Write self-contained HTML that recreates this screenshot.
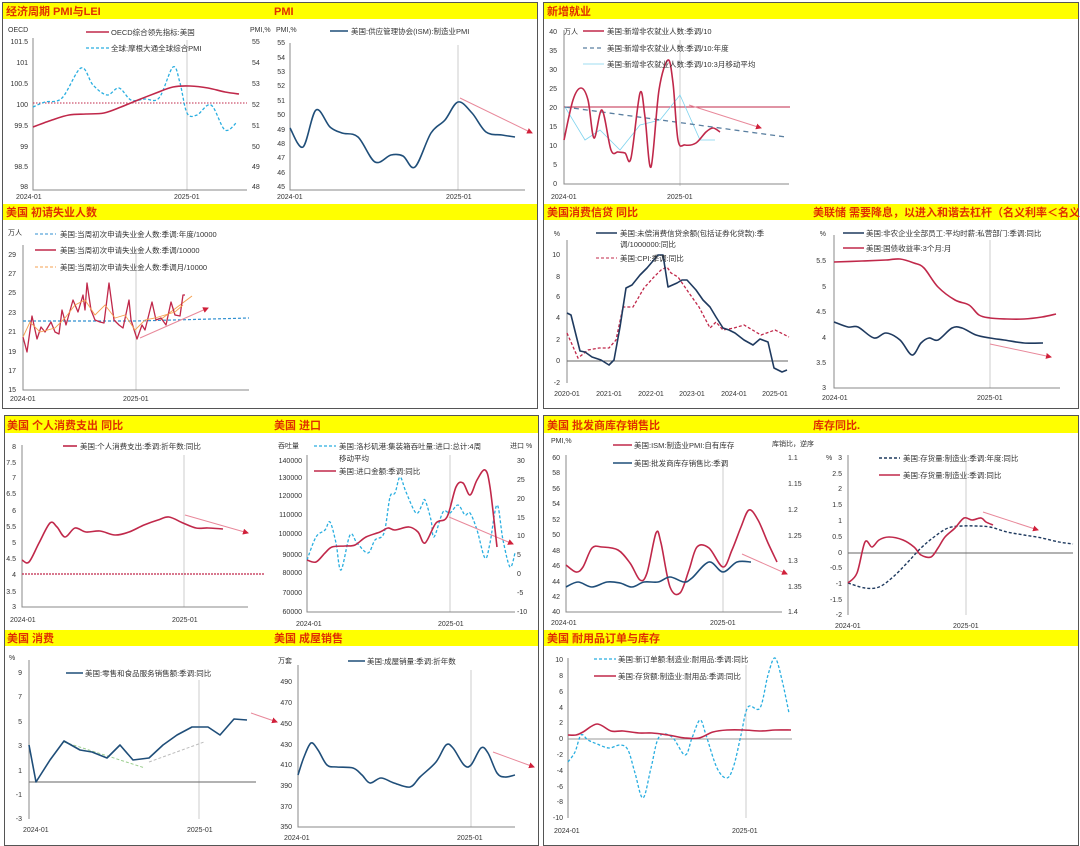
<!DOCTYPE html>
<html><head><meta charset="utf-8"><style>
html,body{margin:0;padding:0;background:#fff;}
svg{display:block;font-family:"Liberation Sans","Noto Sans CJK SC",sans-serif;}
.h{font-size:11px;font-weight:bold;fill:#E03000;}
.t{font-size:7px;fill:#333;}
.l{font-size:7.5px;fill:#333;}
.ax{stroke:#888;stroke-width:1;fill:none;}
.vg{stroke:#ccc;stroke-width:1;}
.red{stroke:#C0284A;stroke-width:1.6;fill:none;stroke-linejoin:round;}
.dk{stroke:#1F4E79;stroke-width:1.6;fill:none;stroke-linejoin:round;}
.cy{stroke:#29AEE0;stroke-width:1.3;fill:none;stroke-dasharray:3,2;stroke-linejoin:round;}
.pk{stroke:#E8889A;stroke-width:1;fill:none;}
</style></head><body>
<svg id="sv" width="1080" height="846" viewBox="0 0 1080 846">
<defs><marker id="ar" markerWidth="6" markerHeight="6" refX="5" refY="3" orient="auto"><path d="M0,0L6,3L0,6z" fill="#D0203A"/></marker></defs>
<rect x="2.5" y="2.5" width="535" height="406" fill="none" stroke="#555"/>
<rect x="543.5" y="2.5" width="535" height="406" fill="none" stroke="#555"/>
<rect x="4.5" y="415.5" width="534" height="430" fill="none" stroke="#555"/>
<rect x="543.5" y="415.5" width="535" height="430" fill="none" stroke="#555"/>
<rect x="3" y="3" width="534" height="16" fill="#FFFF00"/>
<rect x="3" y="204" width="534" height="16" fill="#FFFF00"/>
<rect x="544" y="3" width="534" height="16" fill="#FFFF00"/>
<rect x="544" y="204" width="534" height="16" fill="#FFFF00"/>
<rect x="5" y="416" width="533" height="17" fill="#FFFF00"/>
<rect x="5" y="630" width="533" height="16" fill="#FFFF00"/>
<rect x="544" y="416" width="534" height="17" fill="#FFFF00"/>
<rect x="544" y="630" width="534" height="16" fill="#FFFF00"/>
<text class="h" x="6" y="15">经济周期 PMI与LEI</text>
<text class="h" x="274" y="15">PMI</text>
<text class="h" x="6" y="216">美国 初请失业人数</text>
<text class="h" x="547" y="15">新增就业</text>
<text class="h" x="547" y="216">美国消费信贷 同比</text>
<text class="h" x="813" y="216">美联储 需要降息，以进入和谐去杠杆（名义利率＜名义G</text>
<text class="h" x="7" y="429">美国 个人消费支出 同比</text>
<text class="h" x="274" y="429">美国 进口</text>
<text class="h" x="7" y="642">美国 消费</text>
<text class="h" x="274" y="642">美国 成屋销售</text>
<text class="h" x="547" y="429">美国 批发商库存销售比</text>
<text class="h" x="813" y="429">库存同比.</text>
<text class="h" x="547" y="642">美国 耐用品订单与库存</text>

<!-- Chart A -->
<line class="vg" x1="187" y1="40" x2="187" y2="190"/>
<polyline class="ax" points="33,38 33,190 247,190"/>
<line x1="33" y1="103" x2="247" y2="103" stroke="#C0284A" stroke-dasharray="1.5,1.5"/>
<g class="t" text-anchor="end"><text x="28" y="44">101.5</text><text x="28" y="65">101</text><text x="28" y="86">100.5</text><text x="28" y="107">100</text><text x="28" y="128">99.5</text><text x="28" y="149">99</text><text x="28" y="169">98.5</text><text x="28" y="189">98</text></g>
<g class="t"><text x="252" y="44">55</text><text x="252" y="65">54</text><text x="252" y="86">53</text><text x="252" y="107">52</text><text x="252" y="128">51</text><text x="252" y="149">50</text><text x="252" y="169">49</text><text x="252" y="189">48</text></g>
<text class="t" x="8" y="32">OECD</text><text class="t" x="250" y="32">PMI,%</text>
<text class="t" x="16" y="199">2024-01</text><text class="t" x="174" y="199">2025-01</text>
<polyline class="cy s" points="33,107 45,102 62,98 81,68 93,85 107,95 119,88 131,100 145,99 159,98 173,67 180,83 187,113 197,115 211,105 225,130 237,122"/>
<polyline class="red s" points="33,127 52,120 69,115 86,114 104,113 121,107 138,100 156,93 173,87 190,86 208,88 225,92 239,94"/>
<line x1="86" y1="32" x2="109" y2="32" stroke="#C0284A" stroke-width="1.6"/><text class="l" x="111" y="35">OECD综合领先指标:美国</text>
<line x1="86" y1="48" x2="109" y2="48" class="cy"/><text class="l" x="111" y="51">全球:摩根大通全球综合PMI</text>

<!-- Chart B -->
<line class="vg" x1="458" y1="45" x2="458" y2="190"/>
<polyline class="ax" points="290,43 290,190 525,190"/>
<g class="t" text-anchor="end"><text x="285" y="45">55</text><text x="285" y="60">54</text><text x="285" y="74">53</text><text x="285" y="88">52</text><text x="285" y="103">51</text><text x="285" y="117">50</text><text x="285" y="132">49</text><text x="285" y="146">48</text><text x="285" y="160">47</text><text x="285" y="175">46</text><text x="285" y="189">45</text></g>
<text class="t" x="276" y="32">PMI,%</text>
<text class="t" x="277" y="199">2024-01</text><text class="t" x="446" y="199">2025-01</text>
<line class="pk" x1="460" y1="98" x2="532" y2="133" marker-end="url(#ar)"/>
<polyline class="dk s" points="290,128 303,147 316,110 330,127 342,133 358,137 375,162 391,155 403,156 415,167 431,133 445,120 458,102 472,113 486,132 502,135 515,137"/>
<line x1="330" y1="31" x2="348" y2="31" stroke="#1F4E79" stroke-width="1.6"/><text class="l" x="351" y="34">美国:供应管理协会(ISM):制造业PMI</text>

<!-- Chart C -->
<line class="vg" x1="680" y1="40" x2="680" y2="186"/>
<polyline class="ax" points="564,30 564,184 789,184"/>
<g class="t" text-anchor="end"><text x="557" y="34">40</text><text x="557" y="53">35</text><text x="557" y="72">30</text><text x="557" y="91">25</text><text x="557" y="110">20</text><text x="557" y="129">15</text><text x="557" y="148">10</text><text x="557" y="167">5</text><text x="557" y="186">0</text></g>
<text class="t" x="564" y="34">万人</text>
<text class="t" x="551" y="199">2024-01</text><text class="t" x="667" y="199">2025-01</text>
<line x1="564" y1="107" x2="790" y2="107" stroke="#C0284A" stroke-width="1"/>
<polyline points="565,107 585,140 600,130 620,150 640,125 660,120 680,95 700,140 715,140" stroke="#7FD3EE" stroke-width="0.8" fill="none"/>
<line x1="565" y1="107" x2="786" y2="137" stroke="#5A7FA0" stroke-width="1.3" stroke-dasharray="5,4"/>
<line class="pk" x1="689" y1="105" x2="761" y2="128" marker-end="url(#ar)"/>
<polyline class="red s" points="564,140 573,100 581,88 588,100 594,138 602,110 611,150 618,152 625,153 631,158 640,93 645,117 651,167 659,90 668,60 673,83 678,140 685,145 696,143 706,132 713,128 720,132"/>
<line x1="583" y1="31" x2="604" y2="31" stroke="#C0284A" stroke-width="1.6"/><text class="l" x="607" y="34">美国:新增非农就业人数:季调/10</text>
<line x1="583" y1="48" x2="604" y2="48" stroke="#5A7FA0" stroke-width="1.3" stroke-dasharray="4,3"/><text class="l" x="607" y="51">美国:新增非农就业人数:季调/10:年度</text>
<line x1="583" y1="64" x2="604" y2="64" stroke="#7FD3EE" stroke-width="0.8"/><text class="l" x="607" y="67">美国:新增非农就业人数:季调/10:3月移动平均</text>

<!-- Chart D -->
<line class="vg" x1="136" y1="250" x2="136" y2="390"/>
<polyline class="ax" points="23,245 23,390 249,390"/>
<g class="t" text-anchor="end"><text x="16" y="257">29</text><text x="16" y="276">27</text><text x="16" y="295">25</text><text x="16" y="315">23</text><text x="16" y="334">21</text><text x="16" y="354">19</text><text x="16" y="373">17</text><text x="16" y="392">15</text></g>
<text class="t" x="8" y="235">万人</text>
<text class="t" x="10" y="401">2024-01</text><text class="t" x="123" y="401">2025-01</text>
<polyline points="23,321 136,321 249,318" stroke="#2F8FD0" stroke-width="1.2" stroke-dasharray="3,2" fill="none"/>
<line class="pk" x1="140" y1="338" x2="208" y2="308" marker-end="url(#ar)"/>
<line x1="160" y1="320" x2="192" y2="296" stroke="#F5A050" stroke-width="1"/>
<polyline class="red" style="stroke-width:1.3" points="23,337 27,352 32,316 37,339 41,327 45,332 51,322 55,332 59,334 62,310 66,325 73,300 78,312 83,295 85,310 87,283 91,310 95,320 100,322 104,323 109,283 114,320 119,325 123,328 129,300 131,320 137,339 142,325 145,330 152,302 156,320 161,318 166,325 171,302 175,315 180,316 183,295 185,295"/>
<polyline points="23,337 30,322 40,332 55,328 65,318 75,305 85,300 95,315 105,305 115,318 125,315 135,330 145,320 155,318 165,315 175,312 183,305" stroke="#F5A050" stroke-width="0.9" fill="none"/>
<line x1="35" y1="234" x2="56" y2="234" stroke="#2F8FD0" stroke-dasharray="3,2"/><text class="l" x="60" y="237">美国:当周初次申请失业金人数:季调:年度/10000</text>
<line x1="35" y1="250" x2="56" y2="250" stroke="#C0284A" stroke-width="1.6"/><text class="l" x="60" y="253">美国:当周初次申请失业金人数:季调/10000</text>
<line x1="35" y1="267" x2="56" y2="267" stroke="#F5A050" stroke-dasharray="3,2"/><text class="l" x="60" y="270">美国:当周初次申请失业金人数:季调月/10000</text>

<!-- Chart E -->
<polyline class="ax" points="567,240 567,383"/>
<line x1="567" y1="361" x2="788" y2="361" stroke="#666"/>
<g class="t" text-anchor="end"><text x="560" y="236">%</text><text x="560" y="257">10</text><text x="560" y="279">8</text><text x="560" y="299">6</text><text x="560" y="320">4</text><text x="560" y="342">2</text><text x="560" y="363">0</text><text x="560" y="385">-2</text></g>
<g class="t" text-anchor="middle"><text x="567" y="396">2020-01</text><text x="609" y="396">2021-01</text><text x="651" y="396">2022-01</text><text x="692" y="396">2023-01</text><text x="734" y="396">2024-01</text><text x="775" y="396">2025-01</text></g>
<polyline points="567,333 578,358 588,350 599,348 609,348 616,340 623,307 633,307 644,288 654,277 661,270 667,267 671,273 678,277 689,293 699,307 710,328 716,322 723,330 734,328 744,325 761,335 775,330 789,337" stroke="#C0284A" stroke-width="1.3" stroke-dasharray="3,2" fill="none"/>
<polyline class="dk" style="stroke:#1F3A5F" points="567,313 571,315 580,351 585,352 592,357 601,360 609,365 614,360 620,327 626,288 632,285 640,275 647,268 658,255 663,255 668,287 677,283 682,280 687,280 696,290 703,300 710,307 716,317 723,328 729,330 735,333 744,340 753,345 760,339 768,342 774,368 782,372 787,370"/>
<line x1="596" y1="233" x2="617" y2="233" stroke="#1F3A5F" stroke-width="1.6"/><text class="l" x="620" y="236">美国:未偿消费信贷余额(包括证券化贷款):季</text>
<text class="l" x="620" y="247">调/1000000:同比</text>
<line x1="596" y1="258" x2="617" y2="258" stroke="#C0284A" stroke-dasharray="3,2"/><text class="l" x="620" y="261">美国:CPI:季调:同比</text>

<!-- Chart F -->
<line class="vg" x1="990" y1="240" x2="990" y2="388"/>
<polyline class="ax" points="834,235 834,388 1060,388"/>
<g class="t" text-anchor="end"><text x="826" y="236">%</text><text x="826" y="263">5.5</text><text x="826" y="289">5</text><text x="826" y="314">4.5</text><text x="826" y="340">4</text><text x="826" y="365">3.5</text><text x="826" y="390">3</text></g>
<text class="t" x="822" y="400">2024-01</text><text class="t" x="977" y="400">2025-01</text>
<line class="pk" x1="990" y1="344" x2="1051" y2="357" marker-end="url(#ar)"/>
<polyline class="red s" points="834,262 862,261 886,260 900,259 914,263 924,268 938,287 955,300 969,305 979,315 990,318 1007,319 1024,319 1042,317 1056,314"/>
<polyline class="dk s" style="stroke:#1F3A5F" points="834,322 848,327 858,327 874,338 886,333 900,340 912,355 921,343 929,338 938,340 952,328 962,328 976,335 990,338 1004,340 1024,343 1043,343"/>
<line x1="843" y1="233" x2="864" y2="233" stroke="#1F3A5F" stroke-width="1.6"/><text class="l" x="866" y="236">美国:非农企业全部员工:平均时薪:私营部门:季调:同比</text>
<line x1="843" y1="248" x2="864" y2="248" stroke="#C0284A" stroke-width="1.6"/><text class="l" x="866" y="251">美国:国债收益率:3个月:月</text>

<!-- Chart G -->
<line class="vg" x1="184" y1="455" x2="184" y2="607"/>
<polyline class="ax" points="22,445 22,607 248,607"/>
<g class="t" text-anchor="end"><text x="16" y="449">8</text><text x="16" y="465">7.5</text><text x="16" y="480">7</text><text x="16" y="496">6.5</text><text x="16" y="513">6</text><text x="16" y="529">5.5</text><text x="16" y="545">5</text><text x="16" y="561">4.5</text><text x="16" y="577">4</text><text x="16" y="594">3.5</text><text x="16" y="609">3</text></g>
<text class="t" x="10" y="622">2024-01</text><text class="t" x="172" y="622">2025-01</text>
<line x1="22" y1="574" x2="264" y2="574" stroke="#C0284A" stroke-width="1.2" stroke-dasharray="2,1"/>
<line class="pk" x1="185" y1="515" x2="248" y2="533" marker-end="url(#ar)"/>
<polyline class="red s" points="22,560 29,562 39,543 50,523 57,527 65,537 75,528 86,532 100,531 115,535 129,532 144,525 158,520 169,517 183,523 196,528 208,528 223,529"/>
<line x1="63" y1="446" x2="77" y2="446" stroke="#C0284A" stroke-width="1.6"/><text class="l" x="80" y="449">美国:个人消费支出:季调:折年数:同比</text>

<!-- Chart H -->
<line class="vg" x1="450" y1="455" x2="450" y2="612"/>
<polyline class="ax" points="307,455 307,612 515,612"/>
<g class="t" text-anchor="end"><text x="302" y="463">140000</text><text x="302" y="480">130000</text><text x="302" y="498">120000</text><text x="302" y="517">110000</text><text x="302" y="536">100000</text><text x="302" y="557">90000</text><text x="302" y="575">80000</text><text x="302" y="595">70000</text><text x="302" y="614">60000</text></g>
<g class="t"><text x="517" y="463">30</text><text x="517" y="482">25</text><text x="517" y="501">20</text><text x="517" y="520">15</text><text x="517" y="538">10</text><text x="517" y="557">5</text><text x="517" y="576">0</text><text x="517" y="595">-5</text><text x="517" y="614">-10</text></g>
<text class="t" x="278" y="448">吞吐量</text><text class="t" x="510" y="448">进口 %</text>
<text class="t" x="296" y="626">2024-01</text><text class="t" x="438" y="626">2025-01</text>
<polyline class="cy s" points="307,560 316,537 325,530 330,522 336,543 341,570 350,535 357,543 368,553 375,540 384,533 390,497 395,493 400,477 406,492 416,513 422,505 425,500 431,520 434,537 443,512 450,513 458,505 465,515 470,513 477,530 485,558 490,543 497,505 503,540 510,567 515,553"/>
<line class="pk" x1="449" y1="517" x2="513" y2="544" marker-end="url(#ar)"/>
<polyline class="red s" points="307,560 316,562 325,553 332,547 345,546 355,545 366,537 380,532 388,528 395,530 409,527 418,532 425,543 436,523 447,517 456,487 463,483 470,495 477,480 485,470 490,487 497,547"/>
<line x1="314" y1="446" x2="336" y2="446" class="cy"/><text class="l" x="339" y="449">美国:洛杉矶港:集装箱吞吐量:进口:总计:4周</text>
<text class="l" x="339" y="461">移动平均</text>
<line x1="314" y1="471" x2="336" y2="471" stroke="#C0284A" stroke-width="1.6"/><text class="l" x="339" y="474">美国:进口金额:季调:同比</text>

<!-- Chart I -->
<line class="vg" x1="723" y1="460" x2="723" y2="612"/>
<polyline class="ax" points="566,455 566,612 782,612"/>
<g class="t" text-anchor="end"><text x="560" y="460">60</text><text x="560" y="475">58</text><text x="560" y="491">56</text><text x="560" y="506">54</text><text x="560" y="522">52</text><text x="560" y="537">50</text><text x="560" y="553">48</text><text x="560" y="568">46</text><text x="560" y="584">44</text><text x="560" y="599">42</text><text x="560" y="614">40</text></g>
<g class="t"><text x="788" y="460">1.1</text><text x="788" y="486">1.15</text><text x="788" y="512">1.2</text><text x="788" y="538">1.25</text><text x="788" y="563">1.3</text><text x="788" y="589">1.35</text><text x="788" y="614">1.4</text></g>
<text class="t" x="551" y="443">PMI,%</text><text class="t" x="772" y="446">库销比，逆序</text>
<text class="t" x="551" y="625">2024-01</text><text class="t" x="710" y="625">2025-01</text>
<polyline class="red s" points="566,565 576,572 583,567 592,548 602,547 618,550 630,563 640,580 647,573 656,533 661,543 670,587 680,593 689,570 697,547 709,548 723,567 732,550 741,527 749,510 758,520 768,543 777,562"/>
<polyline class="dk s" points="566,587 578,582 592,587 607,582 620,583 632,587 644,582 658,582 670,577 684,582 692,578 709,562 723,572 737,562 751,562"/>
<line class="pk" x1="742" y1="554" x2="787" y2="574" marker-end="url(#ar)"/>
<line x1="613" y1="445" x2="632" y2="445" stroke="#C0284A" stroke-width="1.6"/><text class="l" x="634" y="448">美国:ISM:制造业PMI:自有库存</text>
<line x1="613" y1="463" x2="632" y2="463" stroke="#1F4E79" stroke-width="1.6"/><text class="l" x="634" y="466">美国:批发商库存销售比:季调</text>

<!-- Chart J -->
<line class="vg" x1="966" y1="460" x2="966" y2="615"/>
<polyline class="ax" points="848,455 848,615"/>
<line x1="848" y1="553" x2="1073" y2="553" stroke="#666"/>
<g class="t" text-anchor="end"><text x="842" y="460">3</text><text x="842" y="476">2.5</text><text x="842" y="491">2</text><text x="842" y="507">1.5</text><text x="842" y="523">1</text><text x="842" y="539">0.5</text><text x="842" y="555">0</text><text x="842" y="570">-0.5</text><text x="842" y="586">-1</text><text x="842" y="602">-1.5</text><text x="842" y="617">-2</text></g>
<text class="t" x="826" y="460">%</text>
<text class="t" x="835" y="628">2024-01</text><text class="t" x="953" y="628">2025-01</text>
<polyline class="s" points="848,583 865,588 879,587 893,577 907,563 921,548 934,537 948,528 962,526 976,526 990,527 1007,532 1024,535 1042,538 1059,542 1073,544" stroke="#1F3A5F" stroke-width="1.4" stroke-dasharray="3,2" fill="none"/>
<line class="pk" x1="983" y1="512" x2="1038" y2="530" marker-end="url(#ar)"/>
<polyline class="red s" points="848,583 857,573 865,542 872,547 879,540 889,537 903,540 914,547 921,555 931,557 938,548 945,537 955,528 964,518 972,520 981,518 986,522 993,525"/>
<line x1="879" y1="458" x2="900" y2="458" stroke="#1F3A5F" stroke-width="1.4" stroke-dasharray="3,2"/><text class="l" x="903" y="461">美国:存货量:制造业:季调:年度:同比</text>
<line x1="879" y1="475" x2="900" y2="475" stroke="#C0284A" stroke-width="1.6"/><text class="l" x="903" y="478">美国:存货量:制造业:季调:同比</text>

<!-- Chart K -->
<line class="vg" x1="199" y1="680" x2="199" y2="819"/>
<polyline class="ax" points="29,660 29,819"/>
<line x1="29" y1="782" x2="256" y2="782" stroke="#666"/>
<g class="t" text-anchor="end"><text x="22" y="675">9</text><text x="22" y="699">7</text><text x="22" y="724">5</text><text x="22" y="748">3</text><text x="22" y="773">1</text><text x="22" y="797">-1</text><text x="22" y="821">-3</text></g>
<text class="t" x="9" y="660">%</text>
<text class="t" x="23" y="832">2024-01</text><text class="t" x="187" y="832">2025-01</text>
<line x1="64" y1="742" x2="145" y2="768" stroke="#9CCF8F" stroke-dasharray="3,2"/>
<line x1="149" y1="762" x2="204" y2="742" stroke="#BBB" stroke-dasharray="3,2"/>
<line class="pk" x1="251" y1="713" x2="277" y2="722" marker-end="url(#ar)"/>
<polyline class="dk" points="29,745 36,782 50,760 64,741 80,750 92,752 107,758 120,745 133,760 149,758 163,745 177,735 192,727 208,727 220,735 234,719 247,720"/>
<line x1="66" y1="673" x2="83" y2="673" stroke="#1F4E79" stroke-width="1.6"/><text class="l" x="85" y="676">美国:零售和食品服务销售额:季调:同比</text>

<!-- Chart L -->
<line class="vg" x1="471" y1="670" x2="471" y2="827"/>
<polyline class="ax" points="298,665 298,827 515,827"/>
<g class="t" text-anchor="end"><text x="292" y="684">490</text><text x="292" y="705">470</text><text x="292" y="726">450</text><text x="292" y="747">430</text><text x="292" y="767">410</text><text x="292" y="788">390</text><text x="292" y="809">370</text><text x="292" y="829">350</text></g>
<text class="t" x="278" y="663">万套</text>
<text class="t" x="284" y="840">2024-01</text><text class="t" x="457" y="840">2025-01</text>
<line class="pk" x1="493" y1="752" x2="534" y2="767" marker-end="url(#ar)"/>
<polyline class="dk s" points="298,775 304,757 311,743 318,750 327,765 337,767 353,768 362,775 370,783 381,778 394,783 410,787 420,777 436,762 446,745 453,748 464,765 471,765 481,748 488,753 497,773 505,777 515,775"/>
<line x1="348" y1="661" x2="365" y2="661" stroke="#1F4E79" stroke-width="1.6"/><text class="l" x="367" y="664">美国:成屋销量:季调:折年数</text>

<!-- Chart M -->
<line class="vg" x1="746" y1="665" x2="746" y2="818"/>
<polyline class="ax" points="568,658 568,818"/>
<line x1="568" y1="739" x2="792" y2="739" stroke="#999"/>
<g class="t" text-anchor="end"><text x="563" y="662">10</text><text x="563" y="678">8</text><text x="563" y="694">6</text><text x="563" y="710">4</text><text x="563" y="725">2</text><text x="563" y="741">0</text><text x="563" y="757">-2</text><text x="563" y="773">-4</text><text x="563" y="789">-6</text><text x="563" y="804">-8</text><text x="563" y="820">-10</text></g>
<text class="t" x="554" y="833">2024-01</text><text class="t" x="732" y="833">2025-01</text>
<polyline class="cy s" points="568,762 575,752 581,735 588,740 597,744 609,748 620,745 628,750 635,773 643,798 651,768 659,737 672,737 685,755 692,738 700,720 706,735 717,768 727,778 734,765 741,735 748,707 760,708 768,675 775,658 782,680 789,713"/>
<polyline class="red s" points="568,735 576,735 583,732 597,724 611,731 623,731 639,733 652,733 668,735 685,738 699,738 713,732 727,730 744,730 761,731 775,730 791,730"/>
<line x1="594" y1="659" x2="616" y2="659" class="cy"/><text class="l" x="618" y="662">美国:新订单额:制造业:耐用品:季调:同比</text>
<line x1="594" y1="676" x2="616" y2="676" stroke="#C0284A" stroke-width="1.6"/><text class="l" x="618" y="679">美国:存货额:制造业:耐用品:季调:同比</text>
</svg>
<script>
(function(){
var ns="http://www.w3.org/2000/svg";
var pls=document.querySelectorAll("polyline.s");
for(var k=0;k<pls.length;k++){
 var pl=pls[k];
 var nums=pl.getAttribute("points").trim().split(/[\s,]+/).map(Number);
 var p=[];for(var i=0;i<nums.length;i+=2)p.push([nums[i],nums[i+1]]);
 var d="M"+p[0][0]+","+p[0][1];
 for(var i=0;i<p.length-1;i++){
  var p0=p[i>0?i-1:i],p1=p[i],p2=p[i+1],p3=p[i+2<p.length?i+2:i+1];
  var c1x=p1[0]+(p2[0]-p0[0])/6,c1y=p1[1]+(p2[1]-p0[1])/6;
  var c2x=p2[0]-(p3[0]-p1[0])/6,c2y=p2[1]-(p3[1]-p1[1])/6;
  d+="C"+c1x.toFixed(1)+","+c1y.toFixed(1)+" "+c2x.toFixed(1)+","+c2y.toFixed(1)+" "+p2[0]+","+p2[1];
 }
 var path=document.createElementNS(ns,"path");
 for(var a=0;a<pl.attributes.length;a++){var at=pl.attributes[a];if(at.name!="points")path.setAttribute(at.name,at.value);}
 path.setAttribute("d",d);
 pl.parentNode.replaceChild(path,pl);
}
})();
</script>
</body></html>
